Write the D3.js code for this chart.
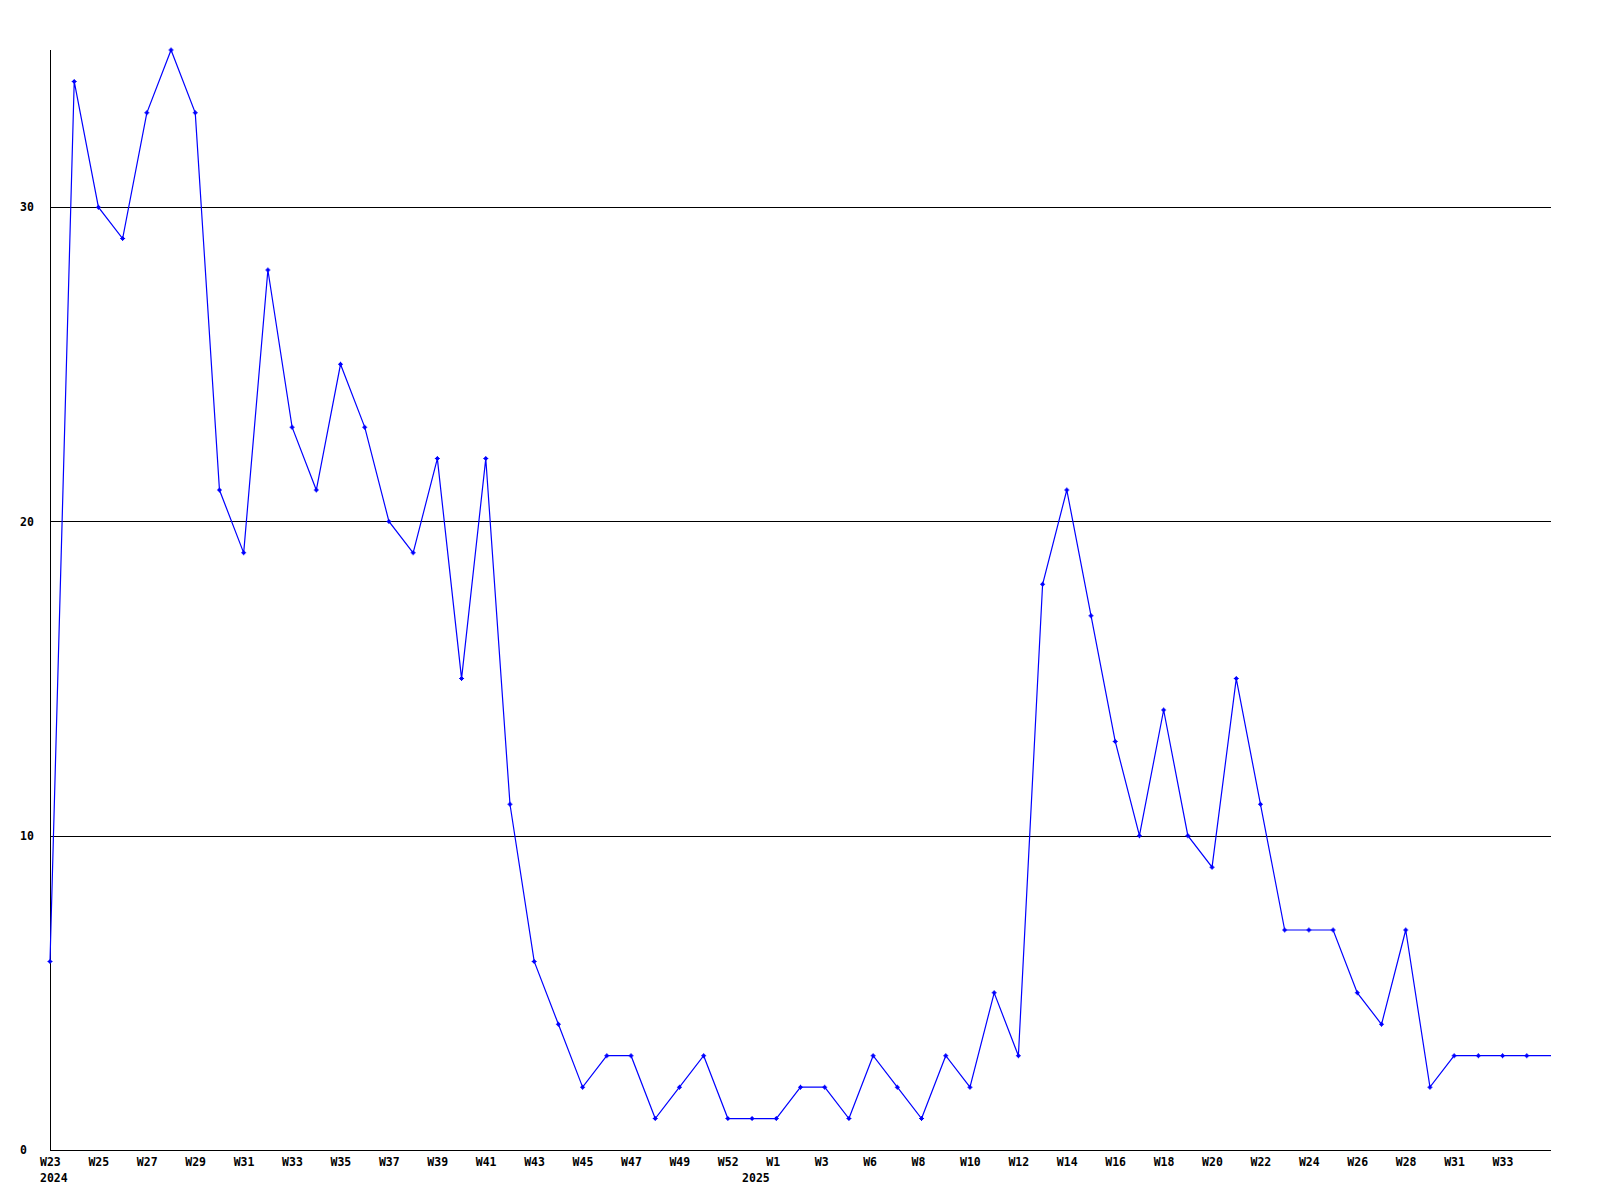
<!DOCTYPE html>
<html>
<head>
<meta charset="utf-8">
<script src="https://cdn.jsdelivr.net/npm/d3@7"></script>
<style>
  html, body { margin: 0; padding: 0; background: #fff; }
  svg { display: block; }
  text { font-family: "DejaVu Sans Mono", "Liberation Mono", monospace; font-weight: bold; font-size: 11.5px; fill: #000; }
</style>
</head>
<body>
<svg id="chart" width="1600" height="1200"></svg>
<script>
// Weekly values, W23 2024 onward (one per week)
const values = [6, 34, 30, 29, 33, 35, 33, 21, 19, 28,
                23, 21, 25, 23, 20, 19, 22, 15, 22, 11,
                6, 4, 2, 3, 3, 1, 2, 3, 1, 1,
                1, 2, 2, 1, 3, 2, 1, 3, 2, 5,
                3, 18, 21, 17, 13, 10, 14, 10, 9, 15,
                11, 7, 7, 7, 5, 4, 7, 2, 3, 3,
                3, 3, 3];
// Tick labels, one every second week
const tickLabels = ["W23", "W25", "W27", "W29", "W31", "W33", "W35", "W37", "W39", "W41",
                    "W43", "W45", "W47", "W49", "W52", "W1", "W3", "W6", "W8", "W10",
                    "W12", "W14", "W16", "W18", "W20", "W22", "W24", "W26", "W28", "W31", "W33"];
const yearLabels = ["2024", "2025"];
const yearIndex = [0, 29];
const yTicks = [0, 10, 20, 30];

const svg = d3.select("#chart");
const mLeft = 50, mRight = 1551, mTop = 50, mBottom = 1150;

const x = d3.scaleLinear().domain([0, values.length - 1]).range([mLeft, mRight]);
const y = d3.scaleLinear().domain([0, 35]).range([mBottom, mTop]);

// gridlines
svg.append("g").selectAll("line").data(yTicks.filter(d => d > 0)).join("line")
  .attr("x1", mLeft).attr("x2", mRight)
  .attr("y1", d => Math.round(y(d)) + 0.5).attr("y2", d => Math.round(y(d)) + 0.5)
  .attr("stroke", "#000").attr("stroke-width", 1).attr("shape-rendering", "crispEdges");

// axes lines
svg.append("line").attr("x1", mLeft + 0.5).attr("x2", mLeft + 0.5).attr("y1", mTop).attr("y2", mBottom + 1)
  .attr("stroke", "#000").attr("shape-rendering", "crispEdges");
svg.append("line").attr("x1", mLeft).attr("x2", mRight).attr("y1", mBottom + 0.5).attr("y2", mBottom + 0.5)
  .attr("stroke", "#000").attr("shape-rendering", "crispEdges");

// y labels
svg.append("g").selectAll("text").data(yTicks).join("text")
  .attr("x", 20).attr("y", d => y(d)).attr("dy", "0.36em")
  .text(d => d);

// x labels
svg.append("g").selectAll("text").data(tickLabels).join("text")
  .attr("x", (d, i) => x(i * 2) - 10).attr("y", 1166)
  .text(d => d);

svg.append("g").selectAll("text").data(yearLabels).join("text")
  .attr("x", (d, i) => x(yearIndex[i]) - 10).attr("y", 1182)
  .text(d => d);

// data line
const line = d3.line().x((d, i) => x(i)).y(d => y(d));
svg.append("path").datum(values)
  .attr("d", line).attr("fill", "none").attr("stroke", "#0000ff").attr("stroke-width", 1.2);

// markers (last point has none)
const marker = "M-2.5,-0.5h5v1h-5z M-0.5,-2.5h1v5h-1z M-1.5,-1.5h3v3h-3z";
svg.append("g").selectAll("path").data(values.slice(0, values.length - 1)).join("path")
  .attr("transform", (d, i) => `translate(${x(i)},${y(d)})`)
  .attr("d", marker).attr("fill", "#0000ff");
</script>
</body>
</html>
